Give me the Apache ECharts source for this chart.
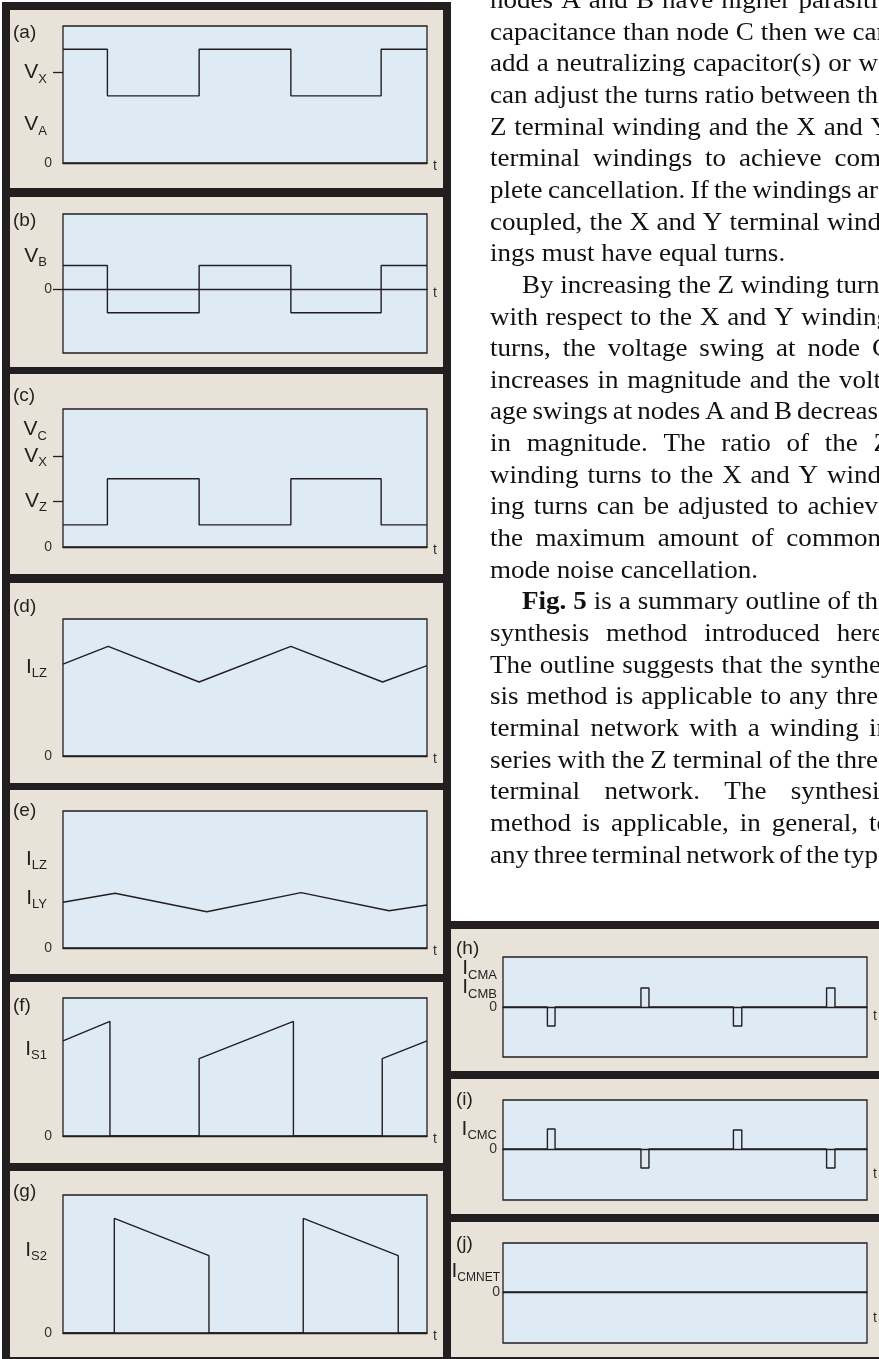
<!DOCTYPE html>
<html>
<head>
<meta charset="utf-8">
<script src="https://cdn.jsdelivr.net/npm/echarts@6/dist/echarts.min.js"></script>
<style>
  html, body { margin: 0; padding: 0; background: #fff; }
  #main { width: 879px; height: 1359px; }
</style>
</head>
<body>
<div id="main"></div>
<script>
// every plot shares a time axis running 0..100 across its width
// (a) V_A square wave, held level after each switching edge
var timeA = [0, 12.2, 37.4, 62.6, 87.4, 100];
var valA = [83, 49, 83, 49, 83, 83];
// (b) V_B
var timeB = [0, 12.2, 37.4, 62.6, 87.4, 100];
var valB = [17, -17, 17, -17, 17, 17];
// (c) V_C
var timeC = [0, 12.2, 37.4, 62.6, 87.4, 100];
var valC = [16, 49.5, 16, 49.5, 16, 16];
// (d) I_LZ ripple
var timeD = [0, 12.4, 37.4, 62.6, 87.8, 100];
var valD = [67, 80, 54, 80, 54, 66];
// (e) I_LY ripple
var timeE = [0, 14.3, 39.5, 65.4, 89.6, 100];
var valE = [33.4, 40, 26.5, 40.4, 27.2, 31.4];
// (f) I_S1
var timeF = [0, 12.9, 12.9, 37.4, 37.4, 63.3, 63.3, 87.7, 87.7, 100];
var valF = [69, 83, 0, 0, 56, 83, 0, 0, 56, 69];
// (g) I_S2
var timeG = [0, 14.1, 14.1, 40.1, 40.1, 66, 66, 92.1, 92.1, 100];
var valG = [0, 0, 83, 56, 0, 0, 83, 56, 0, 0];
// (h) I_CMA / I_CMB spikes
var timeH = [0, 12.2, 14.3, 37.9, 40.1, 63.3, 65.6, 88.9, 91.2, 100];
var valH = [0, -19, 0, 19, 0, -19, 0, 19, 0, 0];
// (i) I_CMC spikes
var timeI = [0, 12.2, 14.3, 37.9, 40.1, 63.3, 65.6, 88.9, 91.2, 100];
var valI = [0, 20, 0, -19, 0, 19, 0, -19, 0, 0];
// (j) I_CMNET
var timeJ = [0, 100];
var valJ = [0, 0];

// y tick labels (value, text) and tick marks per plot
var labValsA = [0, 28, 66],   labTextA = ['0', 'V_A', 'V_X'],  tickValsA = [66];
var labValsB = [0, 23.5],     labTextB = ['0', 'V_B'],         tickValsB = [0];
var labValsC = [0, 33.3, 66, 85], labTextC = ['0', 'V_Z', 'V_X', 'V_C'], tickValsC = [33.3, 66];
var labValsD = [0, 65],       labTextD = ['0', 'I_LZ'],        tickValsD = [];
var labValsE = [0, 36.5, 65], labTextE = ['0', 'I_LY', 'I_LZ'], tickValsE = [];
var labValsF = [0, 63],       labTextF = ['0', 'I_S1'],        tickValsF = [];
var labValsG = [0, 60],       labTextG = ['0', 'I_S2'],        tickValsG = [];
var labValsH = [0, 29],       labTextH = ['0', 'I_CMA\nI_CMB'], tickValsH = [];
var labValsI = [0, 20],       labTextI = ['0', 'I_CMC'],       tickValsI = [];
var labValsJ = [0, 21],       labTextJ = ['0', 'I_CMNET'],     tickValsJ = [];

var textLines = [
  'nodes A and B have higher parasitic',
  'capacitance than node C then we can',
  'add a neutralizing capacitor(s) or we',
  'can adjust the turns ratio between the',
  'Z terminal winding and the X and Y',
  'terminal windings to achieve com-',
  'plete cancellation. If the windings are',
  'coupled, the X and Y terminal wind-',
  'ings must have equal turns.',
  'By increasing the Z winding turns',
  'with respect to the X and Y winding',
  'turns, the voltage swing at node C',
  'increases in magnitude and the volt-',
  'age swings at nodes A and B decrease',
  'in magnitude. The ratio of the Z',
  'winding turns to the X and Y wind-',
  'ing turns can be adjusted to achieve',
  'the maximum amount of common-',
  'mode noise cancellation.',
  'Fig. 5 is a summary outline of the',
  'synthesis method introduced here.',
  'The outline suggests that the synthe-',
  'sis method is applicable to any three',
  'terminal network with a winding in',
  'series with the Z terminal of the three',
  'terminal network. The synthesis',
  'method is applicable, in general, to',
  'any three terminal network of the type'
];
var paraLastLines = [8, 18];
var indentLines = [9, 19];

var INK = '#231f20', GREY = '#333', BEIGE = '#e9e2d8', BLUE = '#deeaf4';
var SANS = '"Liberation Sans Narrow","Liberation Sans",Arial,sans-serif';
var SERIF = '"Liberation Serif","DejaVu Serif",serif';

var panels = [
  { tag: '(a)', tagY: 33,   box: [63, 26, 364, 137],  t: timeA, v: valA, step: 'end', min: 0,   max: 100, lv: labValsA, lt: labTextA, tk: tickValsA, tOff: 2, margin: 11 },
  { tag: '(b)', tagY: 221,  box: [63, 214, 364, 139], t: timeB, v: valB, step: 'end', min: -46, max: 54,  lv: labValsB, lt: labTextB, tk: tickValsB, tOff: 3, margin: 11 },
  { tag: '(c)', tagY: 396,  box: [63, 409, 364, 138], t: timeC, v: valC, step: 'end', min: 0,   max: 100, lv: labValsC, lt: labTextC, tk: tickValsC, tOff: 2, margin: 11 },
  { tag: '(d)', tagY: 607,  box: [63, 619, 364, 137], t: timeD, v: valD, step: false, min: 0,   max: 100, lv: labValsD, lt: labTextD, tk: tickValsD, tOff: 2, margin: 11 },
  { tag: '(e)', tagY: 811,  box: [63, 811, 364, 137], t: timeE, v: valE, step: false, min: 0,   max: 100, lv: labValsE, lt: labTextE, tk: tickValsE, tOff: 2, margin: 11 },
  { tag: '(f)', tagY: 1006, box: [63, 998, 364, 138], t: timeF, v: valF, step: false, min: 0,   max: 100, lv: labValsF, lt: labTextF, tk: tickValsF, tOff: 2, margin: 11 },
  { tag: '(g)', tagY: 1192, box: [63, 1195, 364, 138], t: timeG, v: valG, step: false, min: 0,  max: 100, lv: labValsG, lt: labTextG, tk: tickValsG, tOff: 2, margin: 11 },
  { tag: '(h)', tagY: 949,  box: [503, 957, 364, 100],  t: timeH, v: valH, step: 'end', min: -50, max: 50, lv: labValsH, lt: labTextH, tk: tickValsH, tOff: 8, margin: 6 },
  { tag: '(i)', tagY: 1100, box: [503, 1100, 364, 100], t: timeI, v: valI, step: 'end', min: -51, max: 49, lv: labValsI, lt: labTextI, tk: tickValsI, tOff: 24, margin: 6 },
  { tag: '(j)', tagY: 1244, box: [503, 1243, 364, 100], t: timeJ, v: valJ, step: false, min: -51, max: 49, lv: labValsJ, lt: labTextJ, tk: tickValsJ, tOff: 25, margin: 3 }
];

function richText(txt, right) {
  if (txt === '0') return '{z|0}';
  return txt.split('\n').map(function (row) {
    var parts = row.split('_');
    var sub = parts[1].length > 4 ? 'sn' : 's';
    return '{m|' + parts[0] + '}{' + sub + '|' + parts[1] + '}' + (right ? '' : '{g| }');
  }).join('\n');
}

var RICH = {
  m: { fontSize: 21, fontFamily: SANS, color: INK, lineHeight: 19 },
  s: { fontSize: 13, fontFamily: SANS, color: INK, padding: [13, 0, 0, 0], lineHeight: 19 },
  sn: { fontSize: 12, fontFamily: SANS, color: INK, padding: [13, 0, 0, 0], lineHeight: 19 },
  g: { width: 5 },
  z: { fontSize: 14, fontFamily: SANS, color: GREY }
};

function labelFormatter(vals, texts, right) {
  return function (val) {
    for (var k = 0; k < vals.length; k++) {
      if (Math.abs(vals[k] - val) < 1e-6) return richText(texts[k], right);
    }
    return '';
  };
}

var grids = [], xAxes = [], yAxes = [], series = [];
panels.forEach(function (p, i) {
  var right = p.box[0] > 400;
  grids.push({
    left: p.box[0], top: p.box[1], width: p.box[2], height: p.box[3],
    show: true, backgroundColor: BLUE, borderColor: INK, borderWidth: 1.3
  });
  xAxes.push({
    gridIndex: i, type: 'value', min: 0, max: 100,
    name: 't', nameLocation: 'end', nameGap: 6,
    nameTextStyle: { fontFamily: SANS, fontSize: 14, color: GREY, verticalAlign: 'top', lineHeight: 2 * p.tOff + 2 },
    axisLine: { show: true, onZero: true, lineStyle: { color: INK, width: 1.3 } },
    axisTick: { show: false }, axisLabel: { show: false }, splitLine: { show: false }
  });
  // zero labels and tick marks on one axis, signal names on a twin axis so nothing gets culled
  var zeroVals = [], zeroText = [], nameVals = [], nameText = [];
  p.lv.forEach(function (v, k) {
    if (p.lt[k] === '0') { zeroVals.push(v); zeroText.push(p.lt[k]); }
    else { nameVals.push(v); nameText.push(p.lt[k]); }
  });
  yAxes.push({
    gridIndex: i, type: 'value', position: 'left', min: p.min, max: p.max,
    axisLine: { show: false }, splitLine: { show: false },
    axisTick: { show: p.tk.length > 0, customValues: p.tk, length: 10, lineStyle: { color: INK, width: 1.3 } },
    axisLabel: { customValues: zeroVals, margin: p.margin, hideOverlap: false,
      formatter: labelFormatter(zeroVals, zeroText, right), rich: RICH }
  });
  yAxes.push({
    gridIndex: i, type: 'value', position: 'left', min: p.min, max: p.max,
    axisLine: { show: false }, splitLine: { show: false }, axisTick: { show: false },
    axisLabel: { customValues: nameVals, margin: p.margin, hideOverlap: false,
      formatter: labelFormatter(nameVals, nameText, right), rich: RICH }
  });
  series.push({
    type: 'line', xAxisIndex: i, yAxisIndex: 2 * i,
    data: p.t.map(function (x, k) { return [x, p.v[k]]; }),
    step: p.step, showSymbol: false, symbol: 'none', silent: true,
    lineStyle: { color: INK, width: 1.4 }
  });
});

// frames and panel backgrounds
var graphic = [];
graphic.push({ type: 'rect', z: -20, shape: { x: 2, y: 2, width: 449, height: 1357 }, style: { fill: INK } });
[[10, 188], [197, 367], [374, 574], [583, 783], [790, 974], [982, 1163], [1171, 1357]].forEach(function (b) {
  graphic.push({ type: 'rect', z: -10, shape: { x: 10, y: b[0], width: 433, height: b[1] - b[0] }, style: { fill: BEIGE } });
});
graphic.push({ type: 'rect', z: -20, shape: { x: 443, y: 921, width: 436, height: 438 }, style: { fill: INK } });
[[929, 1071], [1079, 1214], [1222, 1357]].forEach(function (b) {
  graphic.push({ type: 'rect', z: -10, shape: { x: 451, y: b[0], width: 428, height: b[1] - b[0] }, style: { fill: BEIGE } });
});
panels.forEach(function (p) {
  graphic.push({
    type: 'text', z: 50, x: p.box[0] > 400 ? 456 : 13, y: p.tagY,
    style: { text: p.tag, font: '19px ' + SANS, fill: INK, verticalAlign: 'middle' }
  });
});

// justified body text, one element per word (stretched a little to mimic the wider book face)
var FS = 26, SX = 1.04, LEFT = 490, RIGHT = 890, INDENT = 32;
var ctx = document.createElement('canvas').getContext('2d');
function wordW(w, bold) {
  ctx.font = (bold ? 'bold ' : '') + FS + 'px ' + SERIF;
  return ctx.measureText(w).width * SX;
}
textLines.forEach(function (line, k) {
  var words = line.split(' ');
  var x0 = LEFT + (indentLines.indexOf(k) >= 0 ? INDENT : 0);
  var bold = words.map(function (w, j) { return k === 19 && j < 2; });
  var widths = words.map(function (w, j) { return wordW(w, bold[j]); });
  var sum = widths.reduce(function (a, b) { return a + b; }, 0);
  var last = paraLastLines.indexOf(k) >= 0;
  var gap = last ? wordW(' ', false) : (RIGHT - x0 - sum) / (words.length - 1);
  var base = 9 + 31.65 * k;
  var x = x0;
  words.forEach(function (w, j) {
    graphic.push({
      type: 'text', z: 50, x: x, y: base - 0.3 * FS, scaleX: SX,
      style: { text: w, font: (bold[j] ? 'bold ' : '') + FS + 'px ' + SERIF, fill: '#111', verticalAlign: 'middle' }
    });
    x += widths[j] + gap;
  });
});

var chart = echarts.init(document.getElementById('main'));
chart.setOption({
  backgroundColor: '#fff',
  animation: false,
  grid: grids,
  xAxis: xAxes,
  yAxis: yAxes,
  series: series,
  graphic: graphic
});
</script>
</body>
</html>
